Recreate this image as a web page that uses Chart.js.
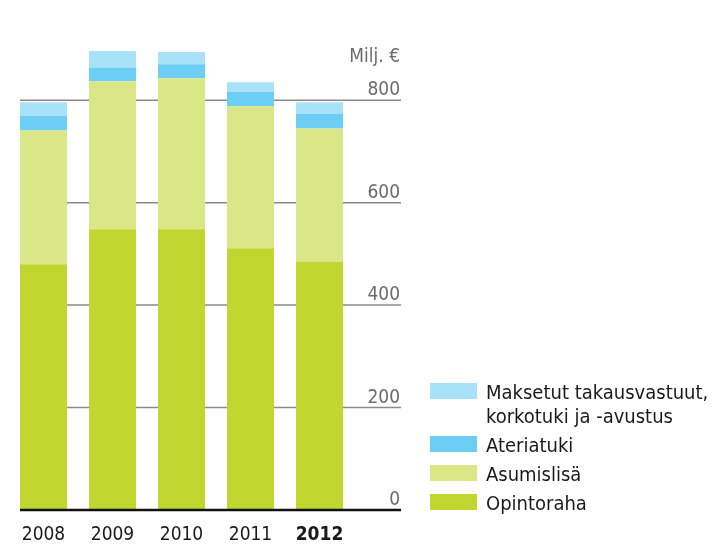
<!DOCTYPE html>
<html>
<head>
<meta charset="utf-8">
<script src="https://cdn.jsdelivr.net/npm/chart.js@4.4.1/dist/chart.umd.min.js"></script>
<style>
    body { margin: 0; background: #fff; }
    #wrap { position: relative; width: 721px; height: 544px; }
    #legend {
        position: absolute;
        left: 430px;
        top: 380px;
        font-family: "DejaVu Sans Condensed", "Liberation Sans Narrow", sans-serif;
        font-size: 20px;
        line-height: 24px;
        white-space: nowrap;
        color: #1a1a1a;
    }
    #legend .row { display: flex; align-items: flex-start; margin-bottom: 5px; }
    #legend .box { width: 47px; height: 16px; margin-top: 3px; margin-right: 9px; flex: none; }
</style>
</head>
<body>
<div id="wrap">
    <canvas id="chart" width="721" height="544"></canvas>
    <div id="legend"></div>
</div>
<script>
const years = ["2008", "2009", "2010", "2011", "2012"];
const opintoraha = [480, 548, 548, 511, 484];
const asumislisa = [261, 289, 295, 277, 261];
const ateriatuki = [28, 27, 27, 28, 28];
const maksetut = [27, 32, 24, 19, 23];
const yTicks = [0, 200, 400, 600, 800];

const FONT = "'DejaVu Sans Condensed', 'Liberation Sans Narrow', sans-serif";

// gridlines + value labels on the right side, drawn from the y scale
const gridPlugin = {
    id: "grid",
    beforeDatasetsDraw(chart) {
        const { ctx, scales } = chart;
        const y = scales.y;
        ctx.save();
        ctx.strokeStyle = "#8a8a8a";
        ctx.lineWidth = 1.5;
        yTicks.forEach((v) => {
            if (v === 0) return;
            const py = y.getPixelForValue(v);
            ctx.beginPath();
            ctx.moveTo(20, py);
            ctx.lineTo(401, py);
            ctx.stroke();
        });
        ctx.fillStyle = "#6b6b6b";
        ctx.font = "19px " + FONT;
        ctx.textAlign = "right";
        ctx.textBaseline = "alphabetic";
        yTicks.forEach((v) => {
            ctx.fillText(String(v), 400, y.getPixelForValue(v) - 5);
        });
        ctx.fillText("Milj. €", 400, y.getPixelForValue(800) - 38);
        ctx.restore();
    },
    afterDatasetsDraw(chart) {
        const { ctx, scales } = chart;
        const py = scales.y.getPixelForValue(0);
        ctx.save();
        ctx.strokeStyle = "#111";
        ctx.lineWidth = 2.5;
        ctx.beginPath();
        ctx.moveTo(20, py);
        ctx.lineTo(401, py);
        ctx.stroke();
        ctx.restore();
    },
};

const chart = new Chart(document.getElementById("chart"), {
    type: "bar",
    data: {
        labels: years,
        datasets: [
            { label: "Opintoraha", data: opintoraha, backgroundColor: "#c1d72f" },
            { label: "Asumislisä", data: asumislisa, backgroundColor: "#d9e786" },
            { label: "Ateriatuki", data: ateriatuki, backgroundColor: "#6ccef5" },
            { label: "Maksetut takausvastuut,\nkorkotuki ja -avustus", data: maksetut, backgroundColor: "#a8e2f9" },
        ],
    },
    options: {
        responsive: false,
        animation: false,
        layout: {
            padding: { left: 9, right: 367, top: 49, bottom: 0 },
        },
        datasets: {
            bar: { categoryPercentage: 1, barPercentage: 0.681, borderWidth: 0 },
        },
        scales: {
            x: {
                stacked: true,
                offset: true,
                grid: { display: false, drawTicks: false },
                border: { display: false },
                ticks: {
                    color: "#1a1a1a",
                    padding: 14,
                    font: (c) => ({
                        family: FONT,
                        size: 19,
                        weight: c.index === years.length - 1 ? "bold" : "normal",
                    }),
                },
                afterFit(scale) {
                    scale.height = 34;
                },
            },
            y: {
                stacked: true,
                display: false,
                min: 0,
                max: 900,
            },
        },
        plugins: {
            legend: { display: false },
            tooltip: { enabled: false },
        },
    },
    plugins: [gridPlugin],
});

// legend, top entry = top of the stack
const legendEl = document.getElementById("legend");
chart.data.datasets.slice().reverse().forEach((ds) => {
    const row = document.createElement("div");
    row.className = "row";
    const box = document.createElement("span");
    box.className = "box";
    box.style.background = ds.backgroundColor;
    const txt = document.createElement("span");
    txt.innerHTML = ds.label.split("\n").join("<br>");
    row.appendChild(box);
    row.appendChild(txt);
    legendEl.appendChild(row);
});
</script>
</body>
</html>
